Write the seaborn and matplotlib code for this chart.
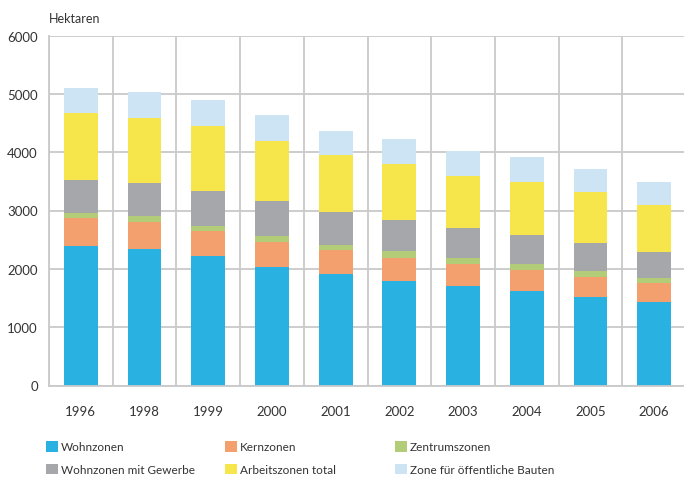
import matplotlib
matplotlib.use("Agg")
import matplotlib.pyplot as plt
import seaborn as sns
import pandas as pd
import numpy as np
from matplotlib.patches import Patch

years = ["1996", "1998", "1999", "2000", "2001", "2002", "2003", "2004", "2005", "2006"]
wohnzonen = [2390, 2340, 2225, 2025, 1915, 1800, 1700, 1615, 1515, 1425]
kernzonen = [480, 470, 430, 430, 415, 390, 375, 360, 345, 330]
zentrumszonen = [85, 100, 85, 110, 80, 110, 105, 110, 105, 85]
wohn_gewerbe = [565, 565, 600, 595, 560, 545, 515, 495, 485, 450]
arbeitszonen = [1150, 1110, 1110, 1030, 985, 945, 895, 905, 875, 805]
oeffentlich = [435, 440, 445, 450, 415, 430, 430, 425, 395, 395]

series_names = ["Wohnzonen", "Kernzonen", "Zentrumszonen",
                "Wohnzonen mit Gewerbe", "Arbeitszonen total", "Zone für öffentliche Bauten"]
series_vals = [wohnzonen, kernzonen, zentrumszonen, wohn_gewerbe, arbeitszonen, oeffentlich]
colors = ["#29b1e2", "#f4a06e", "#b3cc78", "#a6a7aa", "#f7e64b", "#cce4f3"]

sns.set_theme(style="white")
plt.rcParams['font.family'] = ['Lato', 'DejaVu Sans']
text_color = "#333333"

W, H = 684, 481
fig = plt.figure(figsize=(W / 100, H / 100), dpi=100)
left_px, right_px, top_px, bottom_px = 49, 686, 36.5, 386.5
ax = fig.add_axes([left_px / W, (H - bottom_px) / H, (right_px - left_px) / W, (bottom_px - top_px) / H])

bottom = np.zeros(len(years))
for name, vals, col in zip(series_names, series_vals, colors):
    df = pd.DataFrame({"year": years, "value": vals})
    sns.barplot(data=df, x="year", y="value", color=col, bottom=bottom,
                width=0.53, ax=ax, saturation=1, edgecolor="none", linewidth=0)
    bottom = bottom + np.array(vals)

ax.set_xlim(-0.5, 9.5)
ax.set_ylim(0, 6000)
ax.set_yticks([0, 1000, 2000, 3000, 4000, 5000, 6000])
ax.set_xticks(np.arange(-0.5, 10, 1), minor=True)
ax.set_axisbelow(True)
grid_col = "#c9c9c9"
ax.grid(axis="y", which="major", color=grid_col, linewidth=1.3)
ax.grid(axis="x", which="minor", color=grid_col, linewidth=1.3)
ax.grid(axis="x", which="major", visible=False)
for s in ["top", "right"]:
    ax.spines[s].set_visible(False)
for s in ["left", "bottom"]:
    ax.spines[s].set_color(grid_col)
    ax.spines[s].set_linewidth(1.3)
ax.set_xlabel("")
ax.set_ylabel("")
ax.tick_params(axis="both", which="both", length=0, labelsize=9.5, colors=text_color)
ax.tick_params(axis="x", pad=14)
ax.tick_params(axis="y", pad=8)

fig.text(49 / W, 1 - 19 / H, "Hektaren", fontsize=9, color=text_color, ha="left", va="center")

col_x = [46, 225, 395]
for i in range(3):
    idxs = [i, i + 3]
    handles = [Patch(facecolor=colors[j], edgecolor="none") for j in idxs]
    labels = [series_names[j] for j in idxs]
    leg = fig.legend(handles, labels, loc="upper left",
                     bbox_to_anchor=(col_x[i] / W, 1 - 442 / H),
                     frameon=False, fontsize=8.5, handlelength=1.0, handleheight=1.0,
                     handletextpad=0.25, labelspacing=0.95, borderpad=0, borderaxespad=0,
                     labelcolor=text_color)

fig.savefig("out.png", dpi=100)
